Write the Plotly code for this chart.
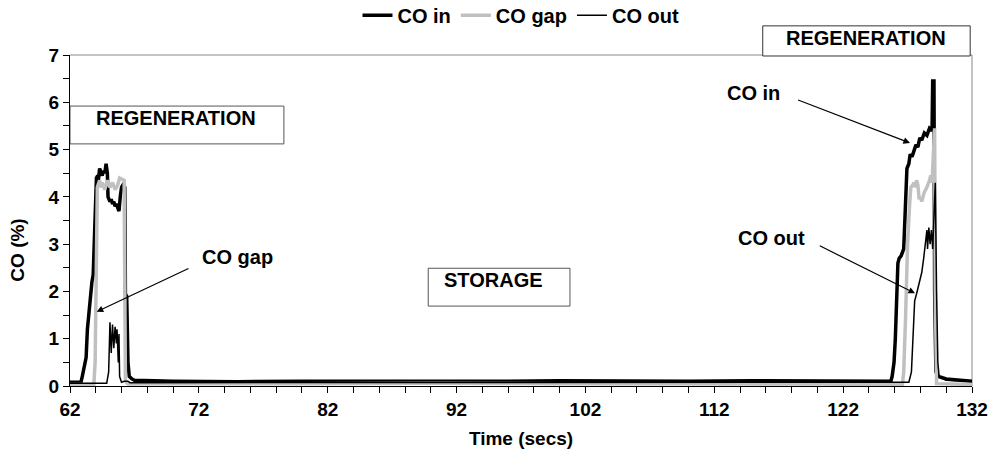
import plotly.graph_objects as go

# ---------------- data ----------------
t_in = [62.0, 62.85, 62.95, 63.1, 63.25, 63.35, 63.45, 63.55, 63.7, 63.8, 63.9, 64.0, 64.05, 64.15, 64.2,
        64.3, 64.4, 64.5, 64.6, 64.7, 64.8, 64.9, 64.95, 65.1, 65.2, 65.3, 65.4, 65.5, 65.6, 65.7, 65.8,
        65.9, 66.0, 66.1, 66.25, 66.3, 66.4, 66.5, 66.6, 66.8, 67.0, 70, 75, 80, 85, 90, 95, 100, 105,
        110, 115, 120, 125, 125.7, 125.8, 125.95, 126.05, 126.15, 126.25, 126.35, 126.5, 126.7, 126.85,
        126.95, 127.1, 127.2, 127.35, 127.5, 127.65, 127.8, 127.95, 128.1, 128.3, 128.5, 128.7, 128.9,
        128.95, 129.05, 129.1, 129.2, 129.4, 130, 131, 132]
co_in = [0.08, 0.08, 0.2, 0.45, 0.6, 1.2, 1.5, 1.9, 2.2, 2.35, 3.2, 4.1, 4.4, 4.45, 4.35,
         4.6, 4.5, 4.45, 4.55, 4.5, 4.7, 4.5, 4.0, 3.9, 3.95, 3.85, 3.9, 3.8, 3.85, 3.75, 3.7,
         4.0, 4.2, 4.25, 4.2, 1.95, 1.9, 0.5, 0.2, 0.15, 0.12, 0.1, 0.09, 0.1, 0.1, 0.09, 0.1, 0.11, 0.1,
         0.1, 0.11, 0.1, 0.09, 0.1, 0.2, 0.5, 1.0, 2.0, 2.6, 2.7, 2.75, 2.9, 4.0,
         4.6, 4.7, 4.9, 4.85, 5.0, 5.1, 5.05, 5.25, 5.2, 5.35, 5.3, 5.45, 5.4,
         6.45, 6.45, 2.0, 0.3, 0.2, 0.15, 0.12, 0.1]

t_gap = [62.0, 63.85, 63.95, 64.05, 64.12, 64.3, 64.4, 64.5, 64.7, 64.9, 65.1, 65.3, 65.5, 65.7, 65.85,
         66.2, 66.25, 66.3, 66.5, 70, 80, 90, 100, 110, 120, 126.6, 126.7, 126.85, 127.0, 127.15, 127.25,
         127.4, 127.5, 127.6, 127.7, 127.8, 127.9, 128.0, 128.1, 128.3, 128.5, 128.7, 128.8, 128.9,
         129.0, 129.1, 129.15, 129.25, 132]
co_gap = [0.03, 0.03, 0.5, 2.5, 4.2, 4.35, 4.2, 4.3, 4.15, 4.35, 4.2, 4.3, 4.15, 4.25, 4.4,
          4.35, 2.0, 0.1, 0.04, 0.05, 0.05, 0.06, 0.05, 0.05, 0.04, 0.03, 0.3, 1.5, 3.0, 3.8, 4.2,
          4.25, 4.3, 4.2, 4.35, 4.25, 3.95, 4.0, 3.9, 4.1, 4.2, 4.35, 4.45, 4.3,
          5.0, 5.45, 2.0, 0.05, 0.03]

t_out = [62.0, 64.85, 65.0, 65.1, 65.2, 65.3, 65.4, 65.5, 65.6, 65.65, 65.75, 65.8, 65.85, 66.0, 66.2,
         66.5, 66.65, 70, 80, 90, 100, 110, 120, 127.1, 127.3, 127.45, 127.55, 127.7, 127.9, 128.1,
         128.25, 128.4, 128.5, 128.55, 128.65, 128.75, 128.85, 128.95, 129.05, 129.15, 129.25, 129.35,
         129.45, 130, 132]
co_out = [0.06, 0.06, 0.3, 1.35, 0.7, 1.3, 0.8, 1.25, 0.9, 1.2, 0.5, 1.1, 0.2, 0.08, 0.1,
          0.1, 0.07, 0.07, 0.08, 0.07, 0.08, 0.08, 0.07, 0.08, 0.3, 1.2, 1.8, 1.95, 2.2, 2.4,
          2.7, 3.1, 3.3, 2.9, 3.35, 3.0, 3.3, 2.9, 3.5, 4.3, 2.0, 0.5,
          0.2, 0.12, 0.1]

series_names = ["CO in", "CO gap", "CO out"]
x_ticks = [62, 72, 82, 92, 102, 112, 122, 132]

FONT = "Liberation Sans, Arial, sans-serif"
TICKF = dict(family=FONT, size=19, color="black", weight="bold")

fig = go.Figure()
fig.add_trace(go.Scatter(x=t_in, y=co_in, mode="lines", name=series_names[0],
                         line=dict(color="black", width=3.5)))
fig.add_trace(go.Scatter(x=t_gap, y=co_gap, mode="lines", name=series_names[1],
                         line=dict(color="#c0c0c0", width=3.5)))
fig.add_trace(go.Scatter(x=t_out, y=co_out, mode="lines", name=series_names[2],
                         line=dict(color="black", width=1.5)))

shapes = [
    dict(type="rect", xref="x", yref="y", x0=62, x1=78.6, y0=5.12, y1=5.92,
         line=dict(color="#555555", width=1), fillcolor="white", layer="above"),
    dict(type="rect", xref="x", yref="y", x0=89.8, x1=100.8, y0=1.69, y1=2.49,
         line=dict(color="#555555", width=1), fillcolor="white", layer="above"),
    dict(type="rect", xref="paper", yref="paper", x0=0.768, x1=0.998, y0=0.997, y1=1.088,
         line=dict(color="#333333", width=1), fillcolor="white", layer="above"),
    # light gray frame on top and right of the plot area
    dict(type="line", xref="paper", yref="paper", x0=0, x1=1, y0=1, y1=1,
         line=dict(color="#888888", width=1), layer="below"),
    dict(type="line", xref="paper", yref="paper", x0=1, x1=1, y0=0, y1=1,
         line=dict(color="#888888", width=1), layer="below"),
]

ann_font = dict(family=FONT, size=20, color="black", weight="bold")
C = dict(xanchor="center", yanchor="middle", showarrow=False, font=ann_font)
annotations = [
    dict(x=70.21, y=5.66, xref="x", yref="y", text="REGENERATION", **C),
    dict(x=94.83, y=2.24, xref="x", yref="y", text="STORAGE", **C),
    dict(x=0.883, y=1.050, xref="paper", yref="paper", text="REGENERATION", **C),
    dict(x=74.96, y=2.73, xref="x", yref="y", text="CO gap", **C),
    dict(x=115.08, y=6.2, xref="x", yref="y", text="CO in", **C),
    dict(x=116.45, y=3.12, xref="x", yref="y", text="CO out", **C),
    dict(x=-0.058, y=0.411, xref="paper", yref="paper", text="CO (%)", textangle=-90,
         xanchor="center", yanchor="middle", showarrow=False,
         font=dict(family=FONT, size=19, color="black", weight="bold")),
    dict(x=64.07, y=1.57, ax=71.31, ay=2.50, xref="x", yref="y", axref="x", ayref="y", text="",
         showarrow=True, arrowhead=2, arrowsize=1.1, arrowwidth=1.2, arrowcolor="black"),
    dict(x=127.19, y=5.14, ax=118.39, ay=6.06, xref="x", yref="y", axref="x", ayref="y", text="",
         showarrow=True, arrowhead=2, arrowsize=1.1, arrowwidth=1.2, arrowcolor="black"),
    dict(x=127.58, y=1.96, ax=120.07, ay=2.98, xref="x", yref="y", axref="x", ayref="y", text="",
         showarrow=True, arrowhead=2, arrowsize=1.1, arrowwidth=1.2, arrowcolor="black"),
]

fig.update_layout(
    width=995, height=459,
    margin=dict(l=70, r=23, t=55, b=73, autoexpand=False),
    paper_bgcolor="white", plot_bgcolor="white",
    font=TICKF,
    shapes=shapes, annotations=annotations,
    legend=dict(orientation="h", x=0.5, xanchor="center", y=1.12, yanchor="middle",
                font=dict(family=FONT, size=20, color="black", weight="bold"),
                bgcolor="rgba(0,0,0,0)", tracegroupgap=0),
    xaxis=dict(range=[62, 132], tickmode="array", tickvals=x_ticks, ticktext=[str(v) for v in x_ticks],
               ticks="outside", ticklen=6, tickwidth=1, tickcolor="black",
               minor=dict(dtick=2, tick0=62, ticks="outside", ticklen=6, tickcolor="black", tickwidth=1),
               showline=True, linecolor="black", linewidth=1, mirror=False, showgrid=False, zeroline=False,
               tickfont=TICKF,
               title=dict(text="Time (secs)", font=dict(family=FONT, size=19, color="black", weight="bold"),
                          standoff=12)),
    yaxis=dict(range=[0, 7], dtick=1, tick0=0,
               ticks="outside", ticklen=6, tickwidth=1, tickcolor="black",
               minor=dict(dtick=0.5, ticks="outside", ticklen=6, tickcolor="black", tickwidth=1),
               showline=True, linecolor="black", linewidth=1, showgrid=False, zeroline=False,
               tickfont=TICKF),
)

fig.write_html("out.html")
